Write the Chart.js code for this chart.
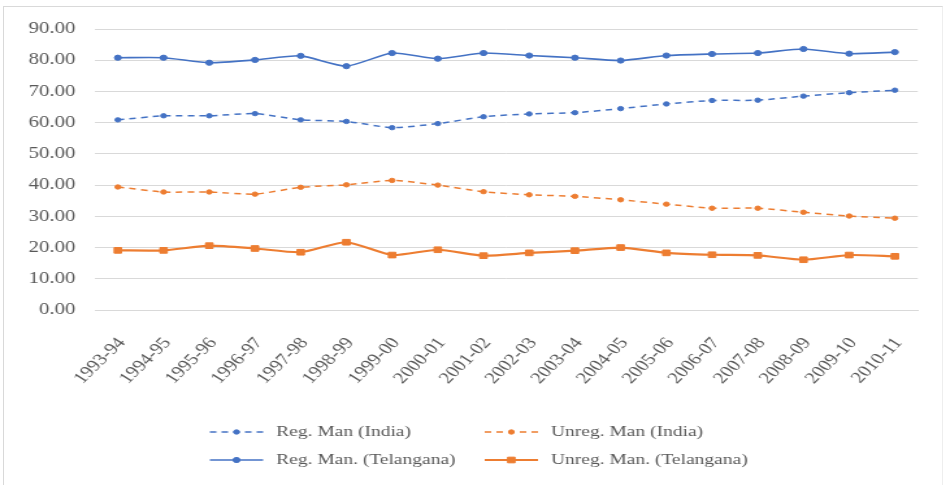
<!DOCTYPE html>
<html>
<head>
<meta charset="utf-8">
<script src="https://cdn.jsdelivr.net/npm/chart.js@4/dist/chart.umd.min.js"></script>
<style>
  html, body { margin: 0; padding: 0; background: #ffffff; overflow: hidden; }
  #frame {
    position: absolute; left: 3px; top: 6px; width: 938px; height: 490px;
    border-top: 1px solid #d9d9d9; border-left: 1px solid #d9d9d9; border-right: 1px solid #eeeeee;
  }
  #chart {
    position: absolute; left: 0; top: 0;
    transform: scaleX(1.2995); transform-origin: 0 0;
  }
</style>
</head>
<body>
<div id="frame"></div>
<canvas id="chart" width="728" height="485"></canvas>
<script>
// Share of workers in registered and unregistered manufacturing (%), India vs Telangana
const years = ['1993-94','1994-95','1995-96','1996-97','1997-98','1998-99','1999-00','2000-01','2001-02',
               '2002-03','2003-04','2004-05','2005-06','2006-07','2007-08','2008-09','2009-10','2010-11'];

const regManIndia     = [60.9, 62.2, 62.2, 62.9, 60.9, 60.4, 58.4, 59.7, 61.9, 62.8, 63.2, 64.5, 66.0, 67.1, 67.2, 68.5, 69.6, 70.4];
const unregManIndia   = [39.4, 37.8, 37.8, 37.1, 39.3, 40.1, 41.5, 40.0, 37.9, 36.9, 36.4, 35.3, 33.9, 32.6, 32.6, 31.3, 30.1, 29.4];
const regManTelangana = [80.8, 80.8, 79.2, 80.1, 81.4, 78.1, 82.3, 80.5, 82.3, 81.5, 80.8, 79.9, 81.5, 82.0, 82.3, 83.6, 82.1, 82.6];
const unregManTelangana = [19.1, 19.1, 20.6, 19.7, 18.5, 21.7, 17.6, 19.3, 17.4, 18.3, 19.0, 20.0, 18.3, 17.7, 17.5, 16.1, 17.6, 17.2];

const yTicks = [0, 10, 20, 30, 40, 50, 60, 70, 80, 90];
const seriesNames = ['Reg. Man (India)', 'Unreg. Man (India)', 'Reg. Man. (Telangana)', 'Unreg. Man. (Telangana)'];

const BLUE = '#4472c4';
const ORANGE = '#ed7d31';
const TEXT = '#595959';
const GRID = '#d9d9d9';

// Two-column legend laid out as a grid under the axis
const gridLegend = {
  id: 'gridLegend',
  afterDraw(chart) {
    const ctx = chart.ctx;
    const cols = [161.5, 373];
    const rows = [432, 460];
    const sampleLen = 41;
    chart.data.datasets.forEach((ds, i) => {
      const x0 = cols[i % 2];
      const y = rows[Math.floor(i / 2)];
      ctx.save();
      ctx.strokeStyle = ds.borderColor;
      ctx.lineWidth = ds.borderWidth;
      ctx.setLineDash(ds.borderDash || []);
      ctx.beginPath();
      ctx.moveTo(x0, y);
      ctx.lineTo(x0 + sampleLen, y);
      ctx.stroke();
      ctx.setLineDash([]);
      ctx.fillStyle = ds.pointBackgroundColor;
      ctx.strokeStyle = ds.pointBorderColor;
      ctx.lineWidth = 1;
      Chart.helpers.drawPoint(ctx, { pointStyle: ds.pointStyle, radius: ds.pointRadius, borderWidth: 1 }, x0 + sampleLen / 2, y);
      ctx.fillStyle = TEXT;
      ctx.font = '15px "Liberation Serif"';
      ctx.textBaseline = 'middle';
      ctx.textAlign = 'left';
      ctx.fillText(ds.label, x0 + 51, y);
      ctx.restore();
    });
  }
};

function series(label, data, color, dashed, style, radius, width) {
  return {
    label, data,
    borderColor: color, backgroundColor: color,
    borderWidth: width,
    borderDash: dashed ? [5, 4] : [],
    pointStyle: style, pointRadius: radius,
    pointBackgroundColor: color, pointBorderColor: color, pointBorderWidth: 1,
    tension: 0.2, fill: false
  };
}

new Chart(document.getElementById('chart'), {
  type: 'line',
  data: {
    labels: years,
    datasets: [
      series(seriesNames[0], regManIndia, BLUE, true, 'circle', 2.2, 1.5),
      series(seriesNames[1], unregManIndia, ORANGE, true, 'circle', 2.2, 1.5),
      series(seriesNames[2], regManTelangana, BLUE, false, 'circle', 2.6, 1.6),
      series(seriesNames[3], unregManTelangana, ORANGE, false, 'rect', 4, 2.2)
    ]
  },
  options: {
    responsive: false,
    animation: false,
    devicePixelRatio: 1,
    layout: { padding: { top: 29, right: 15.7, bottom: 0, left: 0 } },
    plugins: { legend: { display: false }, tooltip: { enabled: false } },
    scales: {
      x: {
        type: 'category',
        offset: true,
        grid: { display: false, drawTicks: false },
        border: { display: true, color: GRID, width: 1 },
        ticks: {
          autoSkip: false, minRotation: 51, maxRotation: 51, padding: 24, labelOffset: 3,
          color: TEXT, font: { family: 'Liberation Serif', size: 16 }
        },
        afterFit(scale) { scale.height = 175; }
      },
      y: {
        min: 0, max: 90,
        afterBuildTicks(scale) { scale.ticks = yTicks.map(v => ({ value: v })); },
        grid: { color: GRID, lineWidth: 1, drawTicks: false },
        border: { display: false },
        ticks: {
          padding: 15, color: TEXT,
          font: { family: 'Liberation Serif', size: 16 },
          callback: v => Number(v).toFixed(2)
        },
        afterFit(scale) { scale.width = 73.1; }
      }
    }
  },
  plugins: [gridLegend]
});
</script>
</body>
</html>
